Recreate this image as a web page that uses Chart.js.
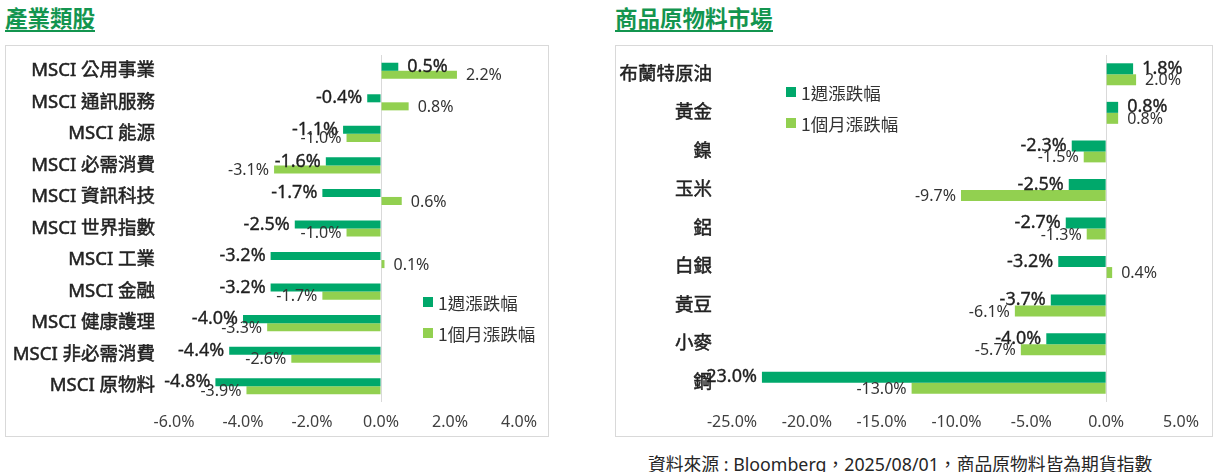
<!DOCTYPE html>
<html>
<head>
<meta charset="utf-8">
<script src="https://cdn.jsdelivr.net/npm/chart.js@4.4.1/dist/chart.umd.min.js"></script>
<style>
  html, body { margin: 0; padding: 0; background: #fff; }
  body { width: 1217px; height: 472px; position: relative; overflow: hidden;
         font-family: "Noto Sans", "Noto Sans CJK TC", sans-serif; }
  .title { position: absolute; top: 4px; height: 26px; line-height: 26px; font-size: 22.5px;
           font-weight: bold; color: #13954f; border-bottom: 2px solid #13954f;
           font-family: "Noto Sans CJK TC", sans-serif; white-space: nowrap; }
  .panel { position: absolute; top: 45px; height: 390px; border: 1px solid #d9d9d9; }
  .panel canvas { position: absolute; left: 0; top: 0; }
  .note { position: absolute; left: 648px; top: 450px; font-size: 17.8px; color: #262626;
          font-family: "Noto Sans", "Noto Sans CJK TC", sans-serif; white-space: nowrap; }
</style>
</head>
<body>
<div class="title" style="left:5px;">產業類股</div>
<div class="title" style="left:615px;">商品原物料市場</div>
<div class="panel" style="left:5px; width:542px;"><canvas id="sectorChart" width="542" height="390"></canvas></div>
<div class="panel" style="left:615px; width:596px;"><canvas id="commodityChart" width="596" height="390"></canvas></div>
<div class="note">資料來源 : Bloomberg，2025/08/01，商品原物料皆為期貨指數</div>

<script>
//////////////////////////////
// Data
//////////////////////////////

const seriesNames = ["1週漲跌幅", "1個月漲跌幅"];

const sectorLabels = [
  "MSCI 公用事業", "MSCI 通訊服務", "MSCI 能源", "MSCI 必需消費", "MSCI 資訊科技",
  "MSCI 世界指數", "MSCI 工業", "MSCI 金融", "MSCI 健康護理", "MSCI 非必需消費", "MSCI 原物料"
];
const sectorWeek = [0.5, -0.4, -1.1, -1.6, -1.7, -2.5, -3.2, -3.2, -4.0, -4.4, -4.8];
const sectorMonth = [2.2, 0.8, -1.0, -3.1, 0.6, -1.0, 0.1, -1.7, -3.3, -2.6, -3.9];
const sectorTicks = [-6, -4, -2, 0, 2, 4];

const commodityLabels = ["布蘭特原油", "黃金", "鎳", "玉米", "鋁", "白銀", "黃豆", "小麥", "鋼"];
const commodityWeek = [1.8, 0.8, -2.3, -2.5, -2.7, -3.2, -3.7, -4.0, -23.0];
const commodityMonth = [2.0, 0.8, -1.5, -9.7, -1.3, 0.4, -6.1, -5.7, -13.0];
const commodityTicks = [-25, -20, -15, -10, -5, 0, 5];

const colors = {
  week: "#00a86b",
  month: "#92d050",
  zero: "#d9d9d9",
  text: "#222222",
  tick: "#404040"
};

const latin = '"Noto Sans", "Noto Sans CJK TC", sans-serif';
const cjk = '"Noto Sans CJK TC", "Noto Sans", sans-serif';

//////////////////////////////
// Plugins: value labels and legend
//////////////////////////////

const barLabels = {
  id: "barLabels",
  afterDatasetsDraw(chart, args, opts) {
    const ctx = chart.ctx;
    chart.data.datasets.forEach((ds, i) => {
      const st = opts.styles[i];
      const meta = chart.getDatasetMeta(i);
      ctx.save();
      ctx.font = st.font;
      ctx.fillStyle = st.color;
      ctx.strokeStyle = st.color;
      ctx.lineWidth = st.stroke;
      ctx.textBaseline = "middle";
      meta.data.forEach((bar, j) => {
        const v = ds.data[j];
        const neg = v < 0;
        ctx.textAlign = neg ? "right" : "left";
        const x = bar.x + (neg ? -opts.negGap : opts.posGap);
        const txt = v.toFixed(1) + "%";
        ctx.fillText(txt, x, bar.y + st.dy);
        if (st.stroke > 0) ctx.strokeText(txt, x, bar.y + st.dy);
      });
      ctx.restore();
    });
  }
};

const boxLegend = {
  id: "boxLegend",
  afterDraw(chart, args, opts) {
    const ctx = chart.ctx;
    ctx.save();
    ctx.font = opts.font;
    ctx.textBaseline = "middle";
    chart.data.datasets.forEach((ds, i) => {
      const y = opts.y + i * opts.step;
      ctx.fillStyle = ds.backgroundColor;
      ctx.fillRect(opts.x, y - 5, 10, 10);
      ctx.fillStyle = "#333333";
      ctx.fillText(ds.label, opts.x + 15, y + 1);
    });
    ctx.restore();
  }
};

//////////////////////////////
// Chart builder
//////////////////////////////

function buildChart(id, labels, week, month, ticks, opt) {
  const ctx = document.getElementById(id).getContext("2d");
  return new Chart(ctx, {
    type: "bar",
    data: {
      labels: labels,
      datasets: [
        { label: seriesNames[0], data: week, backgroundColor: colors.week,
          categoryPercentage: opt.catPct, barPercentage: 1 },
        { label: seriesNames[1], data: month, backgroundColor: colors.month,
          categoryPercentage: opt.catPct, barPercentage: 1 }
      ]
    },
    options: {
      indexAxis: "y",
      responsive: false,
      animation: false,
      layout: { padding: { left: 0, right: opt.padRight, top: 9, bottom: 0 } },
      plugins: {
        legend: { display: false },
        tooltip: { enabled: false },
        barLabels: {
          posGap: 9,
          negGap: 5,
          styles: [
            { font: "18px " + latin, color: "#1f1f1f", dy: 0, stroke: 0.35 },
            { font: "16px " + latin, color: "#333333", dy: 1, stroke: 0 }
          ]
        },
        boxLegend: { x: opt.legendX, y: opt.legendY, step: 31, font: "17.5px " + cjk }
      },
      scales: {
        x: {
          min: ticks[0],
          max: ticks[ticks.length - 1],
          afterBuildTicks: (scale) => { scale.ticks = ticks.map(v => ({ value: v })); },
          afterFit: (scale) => { scale.height = 34; },
          border: { display: false },
          grid: {
            drawTicks: false,
            color: (c) => (c.tick && c.tick.value === 0 ? colors.zero : "rgba(0,0,0,0)")
          },
          ticks: {
            padding: 11,
            color: colors.tick,
            font: { family: latin, size: 16 },
            callback: (v) => Number(v).toFixed(1) + "%"
          }
        },
        y: {
          afterFit: (scale) => {
            scale.width = opt.axisWidth;
            scale.paddingTop = 0;
            scale.paddingBottom = 0;
          },
          border: { display: false },
          grid: { display: false, drawTicks: false },
          ticks: {
            padding: opt.labelPad,
            color: colors.text,
            textStrokeColor: colors.text,
            textStrokeWidth: 0.5,
            font: { family: latin, size: 18.5 }
          }
        }
      }
    },
    plugins: [barLabels, boxLegend]
  });
}

buildChart("sectorChart", sectorLabels, sectorWeek, sectorMonth, sectorTicks, {
  catPct: 0.51, padRight: 27, axisWidth: 168, labelPad: 19, legendX: 417, legendY: 256
});

buildChart("commodityChart", commodityLabels, commodityWeek, commodityMonth, commodityTicks, {
  catPct: 0.57, padRight: 31, axisWidth: 116, labelPad: 20, legendX: 170, legendY: 46
});
</script>
</body>
</html>
